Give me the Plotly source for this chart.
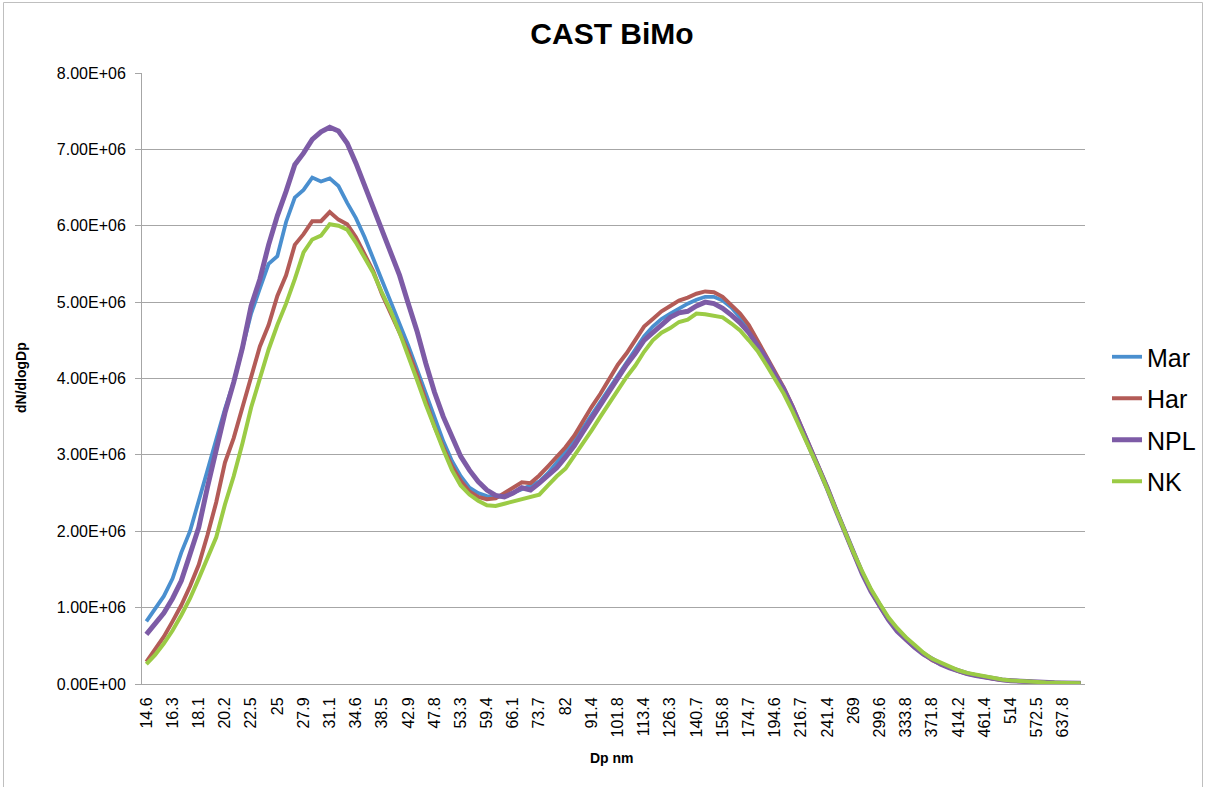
import plotly.graph_objects as go

# Particle mobility diameter channels (nm), 64 channels per decade
diameters = [
    14.6, 15.1, 15.7, 16.3, 16.8, 17.5, 18.1, 18.8, 19.5, 20.2,
    20.9, 21.7, 22.5, 23.3, 24.1, 25.0, 25.9, 26.9, 27.9, 28.9,
    30.0, 31.1, 32.2, 33.4, 34.6, 35.9, 37.2, 38.5, 40.0, 41.4,
    42.9, 44.5, 46.1, 47.8, 49.6, 51.4, 53.3, 55.2, 57.3, 59.4,
    61.5, 63.8, 66.1, 68.5, 71.0, 73.7, 76.4, 79.1, 82.0, 85.1,
    88.2, 91.4, 94.7, 98.2, 101.8, 105.5, 109.4, 113.4, 117.6, 121.9,
    126.3, 131.0, 135.8, 140.7, 145.9, 151.2, 156.8, 162.5, 168.5, 174.7,
    181.1, 187.7, 194.6, 201.7, 209.1, 216.7, 224.7, 232.9, 241.4, 250.3,
    259.5, 269.0, 278.8, 289.0, 299.6, 310.6, 322.0, 333.8, 346.0, 358.7,
    371.8, 385.4, 399.5, 414.2, 429.4, 445.1, 461.4, 478.3, 495.8, 514.0,
    532.8, 552.3, 572.5, 593.5, 615.3, 637.8, 661.2, 685.4,
]

# dN/dlogDp in units of 1e6 per channel
mar = [
    0.82, 0.98, 1.15, 1.38, 1.72, 2.0, 2.38, 2.8, 3.2, 3.6,
    3.95, 4.38, 4.85, 5.18, 5.5, 5.6, 6.05, 6.37, 6.47, 6.63,
    6.58, 6.62, 6.52, 6.3, 6.1, 5.85, 5.58, 5.28, 5.0, 4.73,
    4.43, 4.12, 3.8, 3.48, 3.18, 2.92, 2.72, 2.57, 2.5, 2.46,
    2.45, 2.46, 2.5, 2.55, 2.6, 2.65, 2.76, 2.9, 3.03, 3.18,
    3.35, 3.52, 3.7, 3.88, 4.05, 4.2, 4.37, 4.55, 4.68, 4.78,
    4.85, 4.92, 4.98, 5.03, 5.07, 5.07, 5.02, 4.93, 4.8, 4.65,
    4.46, 4.26, 4.05, 3.85, 3.6, 3.35, 3.1, 2.83, 2.55, 2.27,
    1.98, 1.7, 1.45, 1.22, 1.03, 0.85, 0.72, 0.6, 0.49, 0.4,
    0.32, 0.27, 0.22, 0.17, 0.14, 0.115, 0.09, 0.07, 0.055, 0.045,
    0.036, 0.029, 0.023, 0.019, 0.016, 0.013, 0.011, 0.01,
]
har = [
    0.29, 0.45, 0.62, 0.82, 1.03, 1.28, 1.56, 1.95, 2.38, 2.9,
    3.22, 3.62, 4.0, 4.42, 4.7, 5.08, 5.35, 5.75, 5.89, 6.06,
    6.06, 6.18, 6.08, 6.02, 5.85, 5.62, 5.4, 5.1, 4.85, 4.6,
    4.35, 4.05, 3.7, 3.37, 3.1, 2.85, 2.66, 2.52, 2.45, 2.42,
    2.43, 2.5, 2.56, 2.64, 2.63, 2.73, 2.85, 2.97, 3.1, 3.25,
    3.45, 3.63, 3.8, 4.0, 4.18, 4.33, 4.5, 4.68, 4.78, 4.88,
    4.95, 5.02, 5.06, 5.11, 5.14, 5.13, 5.07, 4.96, 4.85, 4.7,
    4.5, 4.3, 4.08, 3.88, 3.64, 3.38, 3.12, 2.85, 2.57, 2.28,
    1.99, 1.71, 1.45, 1.22, 1.02, 0.84, 0.7, 0.58, 0.48, 0.39,
    0.31, 0.26, 0.21, 0.17, 0.135, 0.11, 0.087, 0.068, 0.053, 0.043,
    0.035, 0.028, 0.022, 0.018, 0.015, 0.012, 0.01, 0.009,
]
npl = [
    0.65, 0.78, 0.93, 1.12, 1.35, 1.7, 2.05, 2.58, 3.08, 3.55,
    3.95, 4.4, 4.95, 5.3, 5.75, 6.13, 6.45, 6.8, 6.95, 7.13,
    7.23, 7.29, 7.24, 7.08, 6.82, 6.52, 6.25, 5.95, 5.62, 5.35,
    4.98, 4.62, 4.2, 3.82, 3.5, 3.22, 2.98, 2.8, 2.65, 2.54,
    2.47, 2.45, 2.5, 2.57, 2.54, 2.63, 2.72, 2.83, 2.97, 3.12,
    3.3, 3.48, 3.66, 3.85, 4.03, 4.18, 4.33, 4.5, 4.6, 4.7,
    4.8, 4.86, 4.88, 4.95, 5.0, 4.98, 4.92, 4.83, 4.73, 4.6,
    4.44, 4.26, 4.05, 3.86, 3.62, 3.36, 3.1, 2.84, 2.56, 2.27,
    1.98, 1.7, 1.44, 1.21, 1.01, 0.84, 0.69, 0.58, 0.48, 0.39,
    0.32, 0.26, 0.21, 0.17, 0.135, 0.11, 0.088, 0.069, 0.054, 0.044,
    0.035, 0.028, 0.023, 0.018, 0.015, 0.012, 0.01, 0.009,
]
nk = [
    0.26, 0.38, 0.53, 0.7, 0.9, 1.12, 1.38, 1.65, 1.92, 2.35,
    2.72, 3.15, 3.62, 4.0, 4.38, 4.7, 4.98, 5.3, 5.65, 5.82,
    5.87, 6.02, 6.0, 5.95, 5.78, 5.58, 5.38, 5.12, 4.88, 4.6,
    4.3, 3.98, 3.66, 3.36, 3.07, 2.8, 2.6, 2.48, 2.4, 2.34,
    2.33, 2.36, 2.39, 2.43, 2.46, 2.48, 2.6, 2.72, 2.82, 2.98,
    3.15, 3.32, 3.5, 3.68, 3.86, 4.02, 4.17, 4.35, 4.5, 4.6,
    4.66, 4.74, 4.77, 4.85, 4.84, 4.82, 4.8, 4.72, 4.63, 4.5,
    4.36, 4.18, 3.98, 3.8, 3.57, 3.33, 3.08, 2.82, 2.55, 2.27,
    1.99, 1.72, 1.47, 1.24, 1.05, 0.87, 0.73, 0.61, 0.51, 0.41,
    0.33, 0.28, 0.23, 0.18, 0.145, 0.12, 0.095, 0.074, 0.058, 0.047,
    0.038, 0.031, 0.025, 0.02, 0.017, 0.014, 0.012, 0.011,
]

series_names = ["Mar", "Har", "NPL", "NK"]
series_values = [mar, har, npl, nk]
series_colors = ["#4A8FCF", "#B35B57", "#7D5BA6", "#9BCB45"]
series_widths = [3.8, 4.0, 5.0, 4.0]

SCALE = 1e6
categories = [f"{d:g}" for d in diameters]
tick_categories = categories[::3]
y_ticks = [i * SCALE for i in range(9)]
y_ticktext = [f"{v:.2E}" for v in y_ticks]

FONT = "Liberation Sans"
GRID = "#A6A6A6"

fig = go.Figure()
for name, vals, color, width in zip(series_names, series_values, series_colors, series_widths):
    fig.add_trace(go.Scatter(
        x=categories,
        y=[v * SCALE for v in vals],
        mode="lines",
        name=name,
        legendgroup=name,
        line=dict(color=color, width=width),
    ))

W, H = 1205, 787
L, R, T, B = 142, 120, 73, 103
pw, ph = W - L - R, H - T - B


def px_to_paper_x(px):
    return (px - L) / pw


def px_to_paper_y(py):
    return (H - B - py) / ph


fig.update_layout(
    width=W,
    height=H,
    margin=dict(l=L, r=R, t=T, b=B, pad=0, autoexpand=False),
    paper_bgcolor="white",
    plot_bgcolor="white",
    font=dict(family=FONT, color="#000000"),
    title=dict(
        text="<b>CAST BiMo</b>",
        x=612 / W,
        xanchor="center",
        y=1 - 33 / H,
        yanchor="middle",
        yref="container",
        font=dict(size=30, family=FONT, color="#000000"),
    ),
    showlegend=True,
    legend=dict(
        x=px_to_paper_x(1107),
        xanchor="left",
        y=px_to_paper_y(419),
        yanchor="middle",
        font=dict(size=25, family=FONT, color="#000000"),
        tracegroupgap=6,
        itemwidth=30,
        bgcolor="rgba(0,0,0,0)",
    ),
    xaxis=dict(
        type="category",
        categoryorder="array",
        categoryarray=categories,
        range=[-0.5, len(categories) - 0.5],
        tickmode="array",
        tickvals=tick_categories,
        ticktext=tick_categories,
        tickangle=-90,
        tickfont=dict(size=16, family=FONT, color="#000000"),
        ticks="",
        ticklabelstandoff=6,
        showgrid=False,
        showline=True,
        linecolor=GRID,
        linewidth=1,
        zeroline=False,
    ),
    yaxis=dict(
        range=[0, 8 * SCALE],
        tickmode="array",
        tickvals=y_ticks,
        ticktext=y_ticktext,
        tickfont=dict(size=16, family=FONT, color="#000000"),
        ticks="outside",
        ticklen=6,
        tickcolor=GRID,
        showgrid=True,
        gridcolor=GRID,
        gridwidth=1,
        showline=True,
        linecolor=GRID,
        linewidth=1,
        zeroline=False,
        ticklabelstandoff=6,
    ),
    annotations=[
        dict(
            text="<b>dN/dlogDp</b>",
            x=px_to_paper_x(21), y=px_to_paper_y(378),
            xref="paper", yref="paper",
            textangle=-90, showarrow=False,
            xanchor="center", yanchor="middle",
            font=dict(size=14, family=FONT, color="#000000"),
        ),
        dict(
            text="<b>Dp nm</b>",
            x=px_to_paper_x(612), y=px_to_paper_y(758),
            xref="paper", yref="paper",
            showarrow=False,
            xanchor="center", yanchor="middle",
            font=dict(size=14, family=FONT, color="#000000"),
        ),
    ],
    shapes=[
        dict(
            type="rect", xref="paper", yref="paper",
            x0=px_to_paper_x(3.5), x1=px_to_paper_x(1202.5),
            y0=px_to_paper_y(800), y1=px_to_paper_y(2.5),
            line=dict(color="#BFBFBF", width=1),
            fillcolor="rgba(0,0,0,0)",
            layer="below",
        ),
    ],
)

fig.write_html("out.html")
